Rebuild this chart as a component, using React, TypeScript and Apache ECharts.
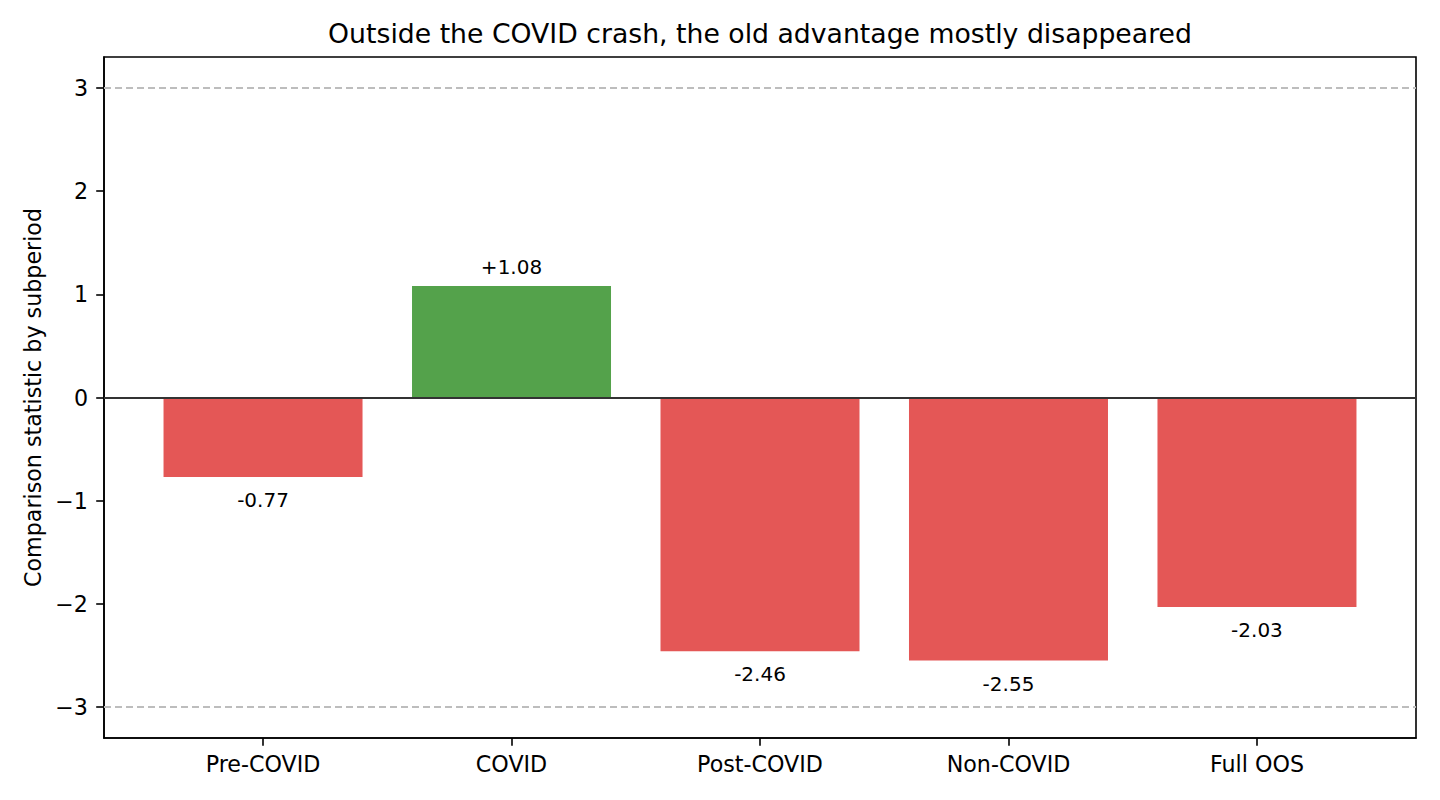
import React, { useEffect, useRef } from "react";
import * as echarts from "echarts";

const categories = ["Pre-COVID", "COVID", "Post-COVID", "Non-COVID", "Full OOS"];
const values = [-0.77, 1.08, -2.46, -2.55, -2.03];
const yTicks = [-3, -2, -1, 0, 1, 2, 3];
const xTicks = [0, 1, 2, 3, 4];

const RED = "#E45756";
const GREEN = "#54A24B";
const FONT = "DejaVu Sans";

const fmtSigned = (v: number) => (v >= 0 ? "+" : "") + v.toFixed(2);

export default function App() {
  const ref = useRef<HTMLDivElement>(null);

  useEffect(() => {
    if (!ref.current) return;
    const chart = echarts.init(ref.current, null, { renderer: "svg" });

    const data = values.map((v, i) => ({
      value: [i, v],
      itemStyle: { color: v >= 0 ? GREEN : RED },
      label: {
        show: true,
        position: v >= 0 ? "top" : "bottom",
        distance: v >= 0 ? 9 : 13,
        formatter: fmtSigned(v),
      },
    }));

    const tickStyle = { color: "#000000", width: 1.6 };

    chart.setOption({
      animation: false,
      backgroundColor: "#ffffff",
      textStyle: { fontFamily: FONT },
      grid: {
        left: 104,
        right: 24,
        top: 57,
        bottom: 62,
        show: true,
        borderColor: "#000000",
        borderWidth: 1.6,
        backgroundColor: "transparent",
      },
      graphic: [
        {
          type: "text",
          x: 760,
          y: 33.5,
          style: {
            text: "Outside the COVID crash, the old advantage mostly disappeared",
            fontFamily: FONT,
            fontSize: 26.7,
            fill: "#000000",
            textAlign: "center",
            textVerticalAlign: "middle",
          },
        },
      ],
      xAxis: {
        type: "value",
        min: -0.64,
        max: 4.64,
        splitLine: { show: false },
        axisLine: { show: true, onZero: false, lineStyle: tickStyle },
        axisTick: {
          show: true,
          customValues: xTicks,
          length: 7.8,
          lineStyle: tickStyle,
        },
        axisLabel: {
          customValues: xTicks,
          formatter: (v: number) => categories[Math.round(v)] ?? "",
          fontFamily: FONT,
          fontSize: 22.2,
          color: "#000000",
          margin: 15,
        },
      },
      yAxis: {
        type: "value",
        min: -3.3,
        max: 3.3,
        name: "Comparison statistic by subperiod",
        nameLocation: "middle",
        nameRotate: 90,
        nameGap: 60,
        nameTextStyle: { fontFamily: FONT, fontSize: 22.2, color: "#000000" },
        splitLine: { show: false },
        axisLine: { show: true, onZero: false, lineStyle: tickStyle },
        axisTick: {
          show: true,
          customValues: yTicks,
          length: 7.8,
          lineStyle: tickStyle,
        },
        axisLabel: {
          customValues: yTicks,
          formatter: (v: number) => (v < 0 ? "\u2212" + Math.abs(v) : String(v)),
          fontFamily: FONT,
          fontSize: 22.2,
          color: "#000000",
          margin: 16,
        },
      },
      series: [
        {
          type: "bar",
          barWidth: 199,
          data,
          label: {
            fontFamily: FONT,
            fontSize: 20,
            color: "#000000",
          },
          markLine: {
            silent: true,
            symbol: "none",
            label: { show: false },
            data: [
              { yAxis: 3, lineStyle: { color: "#bdbdbd", type: [7, 4], width: 1.8 } },
              { yAxis: -3, lineStyle: { color: "#bdbdbd", type: [7, 4], width: 1.8 } },
              { yAxis: 0, lineStyle: { color: "#333333", type: "solid", width: 1.8 } },
            ],
          },
        },
      ],
    });

    return () => chart.dispose();
  }, []);

  return (
    <div
      ref={ref}
      style={{ position: "fixed", left: 0, top: 0, width: 1440, height: 800 }}
    />
  );
}
